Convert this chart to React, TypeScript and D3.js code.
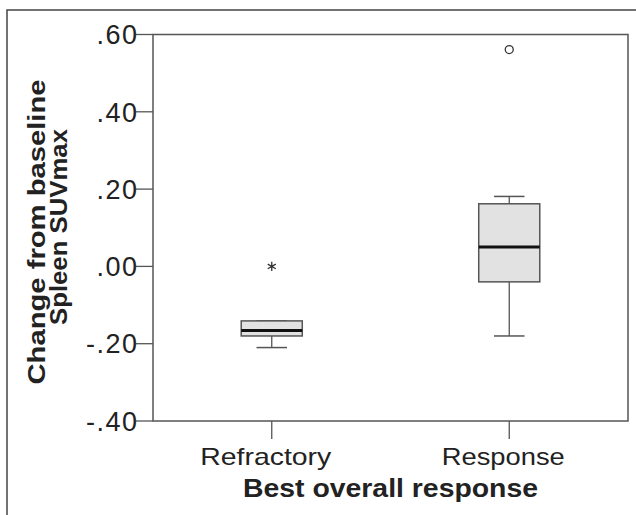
import React from "react";
import * as d3 from "d3";

const categories = ["Refractory", "Response"];
const whiskerLow = [-0.21, -0.18];
const q1 = [-0.18, -0.04];
const medians = [-0.166, 0.05];
const q3 = [-0.141, 0.162];
const whiskerHigh = [-0.141, 0.181];
const outlierValues = [0.0, 0.561];
const outlierKinds = ["extreme", "mild"];
const yTicks = [-0.4, -0.2, 0.0, 0.2, 0.4, 0.6];
const xTitle = "Best overall response";
const yTitle1 = "Change from baseline";
const yTitle2 = "Spleen SUVmax";

const W = 636;
const H = 515;
const plot = { left: 153, right: 628, top: 34.5, bottom: 421 };

export default function App() {
  const x = d3.scaleBand<string>().domain(categories).range([plot.left, plot.right]).padding(0);
  const y = d3.scaleLinear().domain([-0.4, 0.6]).range([plot.bottom, plot.top]);
  const fmt = (v: number) => {
    const s = d3.format(".2f")(Math.abs(v) < 1e-9 ? 0 : v).replace("\u2212", "-");
    return s.replace(/^(-?)0\./, "$1.");
  };
  const boxW = x.bandwidth() * 0.257;
  const capW = boxW / 2;
  const stroke = "#555";
  const font = "'Liberation Sans', Arial, sans-serif";
  const star = d3.symbol().type(d3.symbolAsterisk).size(60)();

  return (
    <svg width={W} height={H} style={{ position: "absolute", left: 0, top: 0, background: "#fff" }}>
      {/* outer frame */}
      <rect x={7} y={10} width={W + 20} height={H + 20} fill="none" stroke="#444" strokeWidth={1.5} />
      {/* plot frame */}
      <rect
        x={plot.left}
        y={plot.top}
        width={plot.right - plot.left}
        height={plot.bottom - plot.top}
        fill="#fff"
        stroke={stroke}
        strokeWidth={1.5}
      />
      {/* y ticks */}
      {yTicks.map((t) => (
        <g key={t}>
          <line x1={136} x2={plot.left} y1={y(t)} y2={y(t)} stroke={stroke} strokeWidth={1.3} />
          <text
            x={137 + 1.5}
            y={y(t)}
            dy="0.36em"
            textAnchor="end"
            fontFamily={font}
            fontSize={27}
            letterSpacing={1.5}
            fill="#222"
          >
            {fmt(t)}
          </text>
        </g>
      ))}
      {/* x ticks */}
      {categories.map((c) => {
        const cx = x(c)! + x.bandwidth() / 2;
        return (
          <g key={c}>
            <line x1={cx} x2={cx} y1={plot.bottom} y2={439} stroke={stroke} strokeWidth={1.3} />
            <text
              x={cx - 6}
              y={465}
              textAnchor="middle"
              fontFamily={font}
              fontSize={24}
              textLength={c === "Refractory" ? 131 : 123}
              lengthAdjust="spacingAndGlyphs"
              fill="#222"
            >
              {c}
            </text>
          </g>
        );
      })}
      {/* boxes */}
      {categories.map((c, i) => {
        const cx = x(c)! + x.bandwidth() / 2;
        return (
          <g key={"b" + c}>
            <line x1={cx} x2={cx} y1={y(whiskerLow[i])} y2={y(q1[i])} stroke={stroke} strokeWidth={1.3} />
            <line x1={cx} x2={cx} y1={y(whiskerHigh[i])} y2={y(q3[i])} stroke={stroke} strokeWidth={1.3} />
            <line
              x1={cx - capW / 2}
              x2={cx + capW / 2}
              y1={y(whiskerLow[i])}
              y2={y(whiskerLow[i])}
              stroke={stroke}
              strokeWidth={1.5}
            />
            <line
              x1={cx - capW / 2}
              x2={cx + capW / 2}
              y1={y(whiskerHigh[i])}
              y2={y(whiskerHigh[i])}
              stroke={stroke}
              strokeWidth={1.5}
            />
            <rect
              x={cx - boxW / 2}
              y={y(q3[i])}
              width={boxW}
              height={y(q1[i]) - y(q3[i])}
              fill="#e2e2e2"
              stroke={stroke}
              strokeWidth={1.5}
            />
            <line
              x1={cx - boxW / 2}
              x2={cx + boxW / 2}
              y1={y(medians[i])}
              y2={y(medians[i])}
              stroke="#111"
              strokeWidth={3}
            />
            {outlierKinds[i] === "mild" ? (
              <circle cx={cx} cy={y(outlierValues[i])} r={4} fill="none" stroke="#333" strokeWidth={1.3} />
            ) : (
              <path d={star!} transform={`translate(${cx},${y(outlierValues[i])})`} fill="none" stroke="#333" strokeWidth={1.3} />
            )}
          </g>
        );
      })}
      {/* axis titles */}
      <text
        x={(plot.left + plot.right) / 2}
        y={497}
        textAnchor="middle"
        fontFamily={font}
        fontWeight="bold"
        fontSize={26}
        textLength={295}
        lengthAdjust="spacingAndGlyphs"
        fill="#222"
      >
        {xTitle}
      </text>
      <text
        transform={`translate(45,232) rotate(-90)`}
        textAnchor="middle"
        fontFamily={font}
        fontWeight="bold"
        fontSize={24}
        textLength={305}
        lengthAdjust="spacingAndGlyphs"
        fill="#222"
      >
        {yTitle1}
      </text>
      <text
        transform={`translate(67,227) rotate(-90)`}
        textAnchor="middle"
        fontFamily={font}
        fontWeight="bold"
        fontSize={24}
        textLength={196}
        lengthAdjust="spacingAndGlyphs"
        fill="#222"
      >
        {yTitle2}
      </text>
    </svg>
  );
}
